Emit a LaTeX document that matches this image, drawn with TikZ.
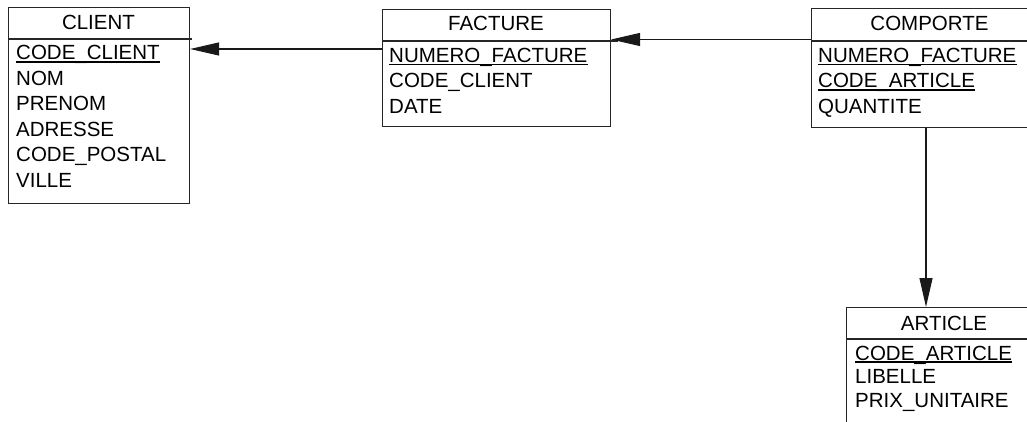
\documentclass[tikz,border=0pt]{standalone}
\usepackage{fontspec}
\setmainfont{Liberation Sans}
\usetikzlibrary{arrows.meta}
\begin{document}
\begin{tikzpicture}[x=1pt,y=-1pt,
  tbox/.style={draw=black!85, line width=1.1pt, inner sep=0pt, anchor=north west},
  sepline/.style={draw=black!85, line width=1.1pt},
  ttl/.style={font=\fontsize{20.5pt}{24pt}\selectfont, inner sep=0pt, anchor=base},
  fld/.style={font=\fontsize{20.5pt}{24pt}\selectfont, inner sep=0pt, anchor=base west},
  keyline/.style={line width=1.8pt, black},
  conn/.style={draw=black!90, line width=1.1pt, -{Triangle[length=29pt,width=13pt]}}]
\useasboundingbox (0,0) rectangle (1027,422);
\clip (0,0) rectangle (1027,422);

% CLIENT
\node[tbox, minimum width=181pt, minimum height=196pt] (client) at (8,7) {};
\node[ttl] (clientT) at (98.5,30) {CLIENT};
\draw[sepline] (8,39) -- (192,39);
\node[fld] (c1) at (16,60) {CODE\_CLIENT};
\node[fld] (c2) at (16,85.5) {NOM};
\node[fld] (c3) at (16,111) {PRENOM};
\node[fld] (c4) at (16,136.5) {ADRESSE};
\node[fld] (c5) at (16,162) {CODE\_POSTAL};
\node[fld] (c6) at (16,187.5) {VILLE};
\draw[keyline] ([yshift=-2pt]c1.base west) -- ([yshift=-2pt]c1.base east);

% FACTURE
\node[tbox, minimum width=228pt, minimum height=117pt] (facture) at (382,9) {};
\node[ttl] (factureT) at (496,31) {FACTURE};
\draw[sepline] (382,41) -- (618,41);
\node[fld] (f1) at (389,62.5) {NUMERO\_FACTURE};
\node[fld] (f2) at (389,88) {CODE\_CLIENT};
\node[fld] (f3) at (389,113.5) {DATE};
\draw[keyline] ([yshift=-2pt]f1.base west) -- ([yshift=-2pt]f1.base east);

% COMPORTE
\node[tbox, minimum width=237pt, minimum height=119pt] (comporte) at (811,8) {};
\node[ttl] (comporteT) at (929.5,30.5) {COMPORTE};
\draw[sepline] (811,41) -- (1050,41);
\node[fld] (m1) at (818,62.5) {NUMERO\_FACTURE};
\node[fld] (m2) at (818,88) {CODE\_ARTICLE};
\node[fld] (m3) at (818,113.5) {QUANTITE};
\draw[keyline] ([yshift=-2pt]m1.base west) -- ([yshift=-2pt]m1.base east);
\draw[keyline] ([yshift=-2pt]m2.base west) -- ([yshift=-2pt]m2.base east);

% ARTICLE
\node[tbox, minimum width=196pt, minimum height=140pt] (article) at (846,307) {};
\node[ttl] (articleT) at (944,330) {ARTICLE};
\draw[sepline] (846,339) -- (1050,339);
\node[fld] (a1) at (855,360) {CODE\_ARTICLE};
\node[fld] (a2) at (855,383.5) {LIBELLE};
\node[fld] (a3) at (855,407) {PRIX\_UNITAIRE};
\draw[keyline] ([yshift=-2pt]a1.base west) -- ([yshift=-2pt]a1.base east);

% connectors
\coordinate (ya) at (0,49);
\coordinate (yb) at (0,39.5);
\coordinate (xc) at (926,0);
\draw[conn] (facture.west |- ya) -- (client.east |- ya);
\draw[conn] (comporte.west |- yb) -- (facture.east |- yb);
\draw[conn] (comporte.south -| xc) -- (article.north -| xc);
\end{tikzpicture}
\end{document}
